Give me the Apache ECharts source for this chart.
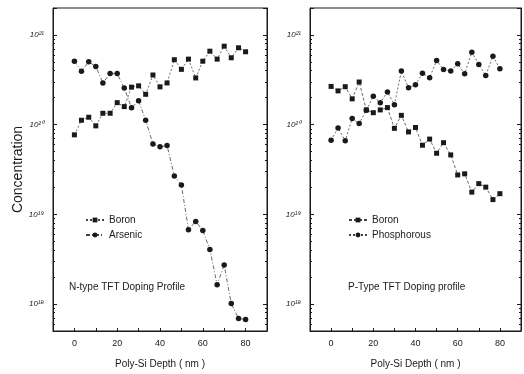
<!DOCTYPE html>
<html>
<head>
<meta charset="utf-8">
<script src="https://cdn.jsdelivr.net/npm/echarts@6/dist/echarts.min.js"></script>
<style>
  html, body { margin: 0; padding: 0; background: #fff; }
  #chart { width: 524px; height: 374px; }
</style>
</head>
<body>
<div id="chart"></div>
<script>
// depth of each measurement (nm)
var depth = [0, 3.3, 6.7, 10, 13.3, 16.7, 20, 23.3, 26.7, 30, 33.3, 36.7, 40,
  43.3, 46.7, 50, 53.3, 56.7, 60, 63.3, 66.7, 70, 73.3, 76.7, 80];

// N-type panel
var nBoron = [7.7e19, 1.12e20, 1.21e20, 9.7e19, 1.34e20, 1.34e20, 1.76e20, 1.59e20,
  2.62e20, 2.71e20, 2.18e20, 3.58e20, 2.64e20, 2.92e20, 5.3e20, 4.14e20, 5.38e20,
  3.32e20, 5.1e20, 6.6e20, 5.38e20, 7.5e20, 5.57e20, 7.2e20, 6.5e20];
var nArsenic = [5.1e20, 3.94e20, 5.03e20, 4.44e20, 2.92e20, 3.71e20, 3.71e20, 2.57e20,
  1.54e20, 1.85e20, 1.12e20, 6.1e19, 5.66e19, 5.85e19, 2.68e19, 2.12e19, 6.75e18,
  8.33e18, 6.6e18, 4.06e18, 1.64e18, 2.72e18, 1.01e18, 6.9e17, 6.7e17];

// P-type panel
var pBoron = [2.67e20, 2.38e20, 2.65e20, 1.94e20, 2.99e20, 1.46e20, 1.36e20, 1.46e20,
  1.55e20, 9.1e19, 1.27e20, 8.3e19, 9.3e19, 5.9e19, 6.9e19, 4.8e19, 6.3e19, 4.6e19,
  2.75e19, 2.83e19, 1.77e19, 2.2e19, 2.01e19, 1.46e19, 1.7e19];
var pPhos = [6.7e19, 9.2e19, 6.6e19, 1.17e20, 1.03e20, 1.45e20, 2.07e20, 1.76e20,
  2.32e20, 1.67e20, 3.96e20, 2.58e20, 2.79e20, 3.74e20, 3.34e20, 5.19e20, 4.12e20,
  3.96e20, 4.77e20, 3.7e20, 6.43e20, 4.69e20, 3.54e20, 5.8e20, 4.2e20];

var xTicks = [0, 20, 40, 60, 80];
var sup = {'0':'⁰','1':'¹','2':'²','3':'³','4':'⁴','5':'⁵','6':'⁶','7':'⁷','8':'⁸','9':'⁹'};

var chart = echarts.init(document.getElementById('chart'));
var ink = '#1a1a1a';
var font = 'Liberation Sans';

function pairs(ys) {
  return depth.map(function (d, i) { return [d, ys[i]]; });
}

function xAxis(idx) {
  return {
    type: 'value', gridIndex: idx, min: -10, max: 90, interval: 10,
    name: 'Poly-Si Depth ( nm )', nameLocation: 'middle', nameGap: 28,
    nameTextStyle: { fontFamily: font, fontSize: 10, color: ink },
    axisLine: { onZero: false, lineStyle: { color: ink, width: 1 } },
    axisTick: { inside: true, length: 3, lineStyle: { color: ink } },
    splitLine: { show: false },
    axisLabel: {
      fontFamily: font, fontSize: 9, color: ink, margin: 8,
      formatter: function (v) { return xTicks.indexOf(v) >= 0 ? String(v) : ''; }
    }
  };
}

function yAxis(idx, right, name) {
  return {
    type: 'log', logBase: 10, gridIndex: idx, min: 5e17, max: 2e21,
    position: right ? 'right' : 'left',
    name: name || '', nameLocation: 'middle', nameGap: 28, nameRotate: 90,
    nameTextStyle: { fontFamily: font, fontSize: 14, color: ink },
    axisLine: { show: true, onZero: false, lineStyle: { color: ink, width: 1 } },
    axisTick: { inside: true, length: 4, lineStyle: { color: ink } },
    minorTick: { show: true, splitNumber: 9, length: 2, lineStyle: { color: ink } },
    splitLine: { show: false },
    minorSplitLine: { show: false },
    axisLabel: {
      show: !right, fontFamily: font, fontSize: 8, fontStyle: 'italic', color: ink, margin: 9,
      showMinLabel: false, showMaxLabel: false,
      formatter: function (v) {
        var e = Math.log10(v);
        if (Math.abs(e - Math.round(e)) > 1e-6) return '';
        return '10' + String(Math.round(e)).split('').map(function (c) { return sup[c]; }).join('');
      }
    }
  };
}

function series(name, ys, gi, yi, symbol, dash) {
  return {
    name: name, type: 'line', xAxisIndex: gi, yAxisIndex: yi,
    data: pairs(ys), symbol: symbol, symbolSize: symbol === 'rect' ? 5 : 5.5,
    itemStyle: { color: ink },
    lineStyle: { color: '#444', width: 0.8, type: dash },
    animation: false
  };
}

chart.setOption({
  animation: false,
  grid: [
    { left: 53, top: 8, width: 214, height: 325, show: true, borderColor: ink, borderWidth: 1 },
    { left: 310, top: 8, width: 212, height: 325, show: true, borderColor: ink, borderWidth: 1 }
  ],
  xAxis: [xAxis(0), xAxis(1)],
  yAxis: [yAxis(0, false, 'Concentration'), yAxis(0, true), yAxis(1, false), yAxis(1, true)],
  title: [
    { text: 'N-type TFT Doping Profile', left: 64, top: 277,
      textStyle: { fontFamily: font, fontSize: 10, fontWeight: 'normal', color: ink } },
    { text: 'P-Type TFT Doping profile', left: 343, top: 277,
      textStyle: { fontFamily: font, fontSize: 10, fontWeight: 'normal', color: ink } }
  ],
  legend: [
    { data: ['Boron', 'Arsenic'], orient: 'vertical', left: 80, top: 210,
      itemWidth: 18, itemHeight: 6, itemGap: 5,
      textStyle: { fontFamily: font, fontSize: 10, color: ink } },
    { data: ['Boron ', 'Phosphorous'], orient: 'vertical', left: 343, top: 210,
      itemWidth: 18, itemHeight: 6, itemGap: 5,
      textStyle: { fontFamily: font, fontSize: 10, color: ink } }
  ],
  series: [
    series('Boron', nBoron, 0, 0, 'rect', [2, 2]),
    series('Arsenic', nArsenic, 0, 0, 'circle', [4, 2, 1, 2]),
    series('Boron ', pBoron, 1, 2, 'rect', [3, 2]),
    series('Phosphorous', pPhos, 1, 2, 'circle', [2, 2])
  ]
});
</script>
</body>
</html>
